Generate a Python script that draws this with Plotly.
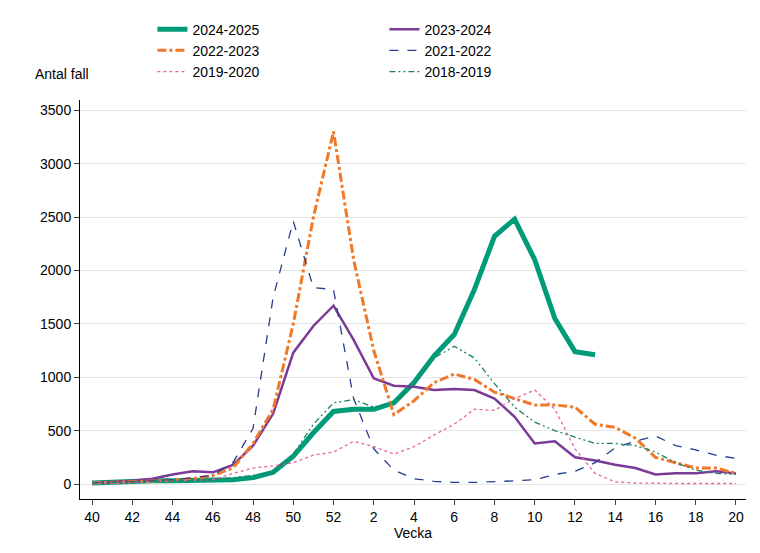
import plotly.graph_objects as go

weeks = [40, 41, 42, 43, 44, 45, 46, 47, 48, 49, 50, 51, 52] + list(range(1, 21))
tick_labels = ['40', '42', '44', '46', '48', '50', '52', '2', '4', '6', '8', '10', '12', '14', '16', '18', '20']

s2425 = [10, 20, 25, 30, 30, 30, 35, 40, 60, 110, 260, 480, 680, 700, 700, 760, 950, 1200, 1400, 1820, 2320, 2480, 2100, 1550, 1240, 1210]
s2324 = [10, 20, 30, 50, 90, 120, 110, 180, 360, 660, 1230, 1480, 1670, 1350, 990, 920, 910, 880, 890, 880, 800, 630, 380, 400, 250, 220, 180, 150, 90, 100, 100, 120, 100]
s2223 = [10, 15, 20, 25, 35, 50, 80, 150, 380, 700, 1500, 2500, 3300, 2100, 1250, 650, 780, 950, 1030, 980, 860, 800, 740, 740, 720, 560, 530, 430, 250, 200, 150, 150, 100]
s2122 = [10, 15, 20, 30, 40, 60, 80, 200, 520, 1750, 2460, 1840, 1820, 800, 330, 130, 50, 25, 15, 15, 20, 30, 40, 90, 120, 200, 340, 400, 450, 360, 320, 270, 240]
s1920 = [5, 10, 15, 20, 25, 30, 40, 100, 150, 170, 200, 270, 300, 400, 350, 280, 350, 460, 560, 700, 690, 800, 880, 700, 330, 100, 20, 10, 5, 5, 5, 5, 5]
s1819 = [10, 15, 20, 25, 30, 30, 40, 60, 80, 110, 280, 560, 760, 790, 720, 760, 930, 1180, 1290, 1180, 940, 720, 580, 500, 440, 380, 380, 360, 300, 200, 130, 100, 90]

series = [
    ('2024-2025', s2425, 'rgb(0,155,120)', 5, 'solid'),
    ('2023-2024', s2324, 'rgb(122,58,150)', 2.5, 'solid'),
    ('2022-2023', s2223, 'rgb(240,120,40)', 3, 'dashdot'),
    ('2021-2022', s2122, 'rgb(40,60,145)', 1.3, 'dash'),
    ('2019-2020', s1920, 'rgb(232,100,160)', 1.3, 'dot'),
    ('2018-2019', s1819, 'rgb(30,130,100)', 1.3, '6px,3px,2px,3px,2px,3px'),
]

fig = go.Figure()
for name, ys, col, w, dash in series:
    fig.add_trace(go.Scatter(x=list(range(len(ys))), y=ys, mode='lines', name=name,
                             line=dict(color=col, width=w, dash=dash)))

fig.update_layout(
    width=760, height=553,
    paper_bgcolor='white', plot_bgcolor='white',
    font=dict(family='Arial', size=14, color='black'),
    margin=dict(l=72, r=22, t=80, b=62),
    legend=dict(orientation='h', xref='container', yref='container', x=0.19, y=0.99,
                xanchor='left', yanchor='top',
                entrywidth=187, entrywidthmode='pixels', font=dict(size=14)),
    xaxis=dict(tickvals=list(range(0, 33, 2)), ticktext=tick_labels, range=[-0.6, 32.5],
               showline=True, linecolor='black', ticks='outside', ticklen=5,
               showgrid=False, zeroline=False,
               title=dict(text='Vecka', standoff=0, font=dict(size=14))),
    yaxis=dict(range=[-140, 3600], tickvals=list(range(0, 3501, 500)),
               showline=True, linecolor='black', ticks='outside', ticklen=5,
               gridcolor='rgb(230,230,230)', zeroline=False),
    annotations=[dict(text='Antal fall', xref='paper', yref='paper', x=-0.07, y=1.04,
                      xanchor='left', yanchor='bottom', showarrow=False, font=dict(size=14))],
)

fig.write_html('out.html')
